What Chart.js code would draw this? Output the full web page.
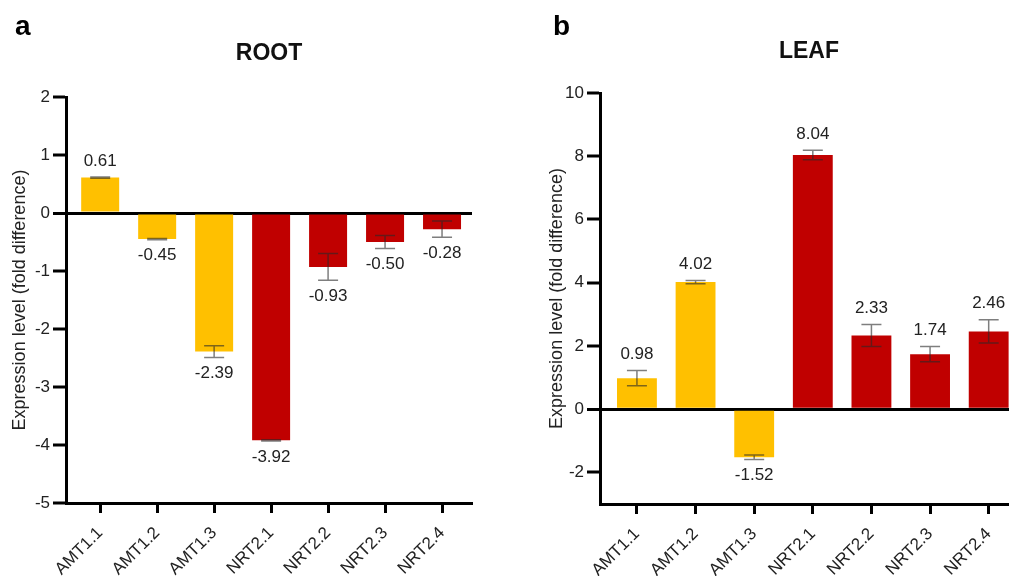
<!DOCTYPE html>
<html>
<head>
<meta charset="utf-8">
<script src="https://cdn.jsdelivr.net/npm/chart.js@4"></script>
<style>
  html, body { margin: 0; padding: 0; background: #fff; overflow: hidden; }
  body { width: 1009px; height: 576px; position: relative; }
  .panel { position: absolute; top: 0; }
  #root-chart { left: 0; }
  #leaf-chart { left: 520px; }
</style>
</head>
<body>
<canvas id="root-chart" class="panel" width="505" height="576"></canvas>
<canvas id="leaf-chart" class="panel" width="500" height="576"></canvas>
<script>
// data
const genes = ['AMT1.1', 'AMT1.2', 'AMT1.3', 'NRT2.1', 'NRT2.2', 'NRT2.3', 'NRT2.4'];
const geneColors = ['#FFC000', '#FFC000', '#FFC000', '#C00000', '#C00000', '#C00000', '#C00000'];
const rootValues = [0.61, -0.45, -2.39, -3.92, -0.93, -0.50, -0.28];
const rootErrors = [0.01, 0.01, 0.10, 0.01, 0.23, 0.11, 0.14];
const leafValues = [0.98, 4.02, -1.52, 8.04, 2.33, 1.74, 2.46];
const leafErrors = [0.24, 0.05, 0.07, 0.15, 0.35, 0.24, 0.37];
const rootTicks = [-5, -4, -3, -2, -1, 0, 1, 2];
const leafTicks = [-2, 0, 2, 4, 6, 8, 10];

Chart.defaults.font.family = '"Liberation Sans", Arial, sans-serif';
Chart.defaults.color = '#222';

// error bars + value labels
const errorBars = {
    id: 'errorBars',
    afterDatasetsDraw(chart) {
        const ctx = chart.ctx;
        const y = chart.scales.y;
        const ds = chart.data.datasets[0];
        const meta = chart.getDatasetMeta(0);
        ctx.save();
        meta.data.forEach((bar, i) => {
            const v = ds.data[i].y, e = ds.errors[i];
            const top = y.getPixelForValue(v + e);
            const bot = y.getPixelForValue(v - e);
            ctx.strokeStyle = 'rgba(40,40,40,0.6)';
            ctx.lineWidth = 1.5;
            ctx.beginPath();
            ctx.moveTo(bar.x, top); ctx.lineTo(bar.x, bot);
            ctx.moveTo(bar.x - 10, top); ctx.lineTo(bar.x + 10, top);
            ctx.moveTo(bar.x - 10, bot); ctx.lineTo(bar.x + 10, bot);
            ctx.stroke();
            ctx.fillStyle = '#222';
            ctx.font = '17px "Liberation Sans", Arial, sans-serif';
            ctx.textAlign = 'center';
            ctx.textBaseline = 'middle';
            ctx.fillText(v.toFixed(2), bar.x, v >= 0 ? top - 16 : bot + 16);
        });
        ctx.restore();
    }
};

// panel letter and title
const panelTitle = {
    id: 'panelTitle',
    afterDraw(chart, args, opts) {
        const ctx = chart.ctx;
        const area = chart.chartArea;
        ctx.save();
        ctx.fillStyle = '#000';
        ctx.textBaseline = 'alphabetic';
        ctx.textAlign = 'left';
        ctx.font = 'bold 28px "Liberation Sans", Arial, sans-serif';
        ctx.fillText(opts.letter, opts.letterX, 35);
        ctx.fillStyle = '#111';
        ctx.textAlign = 'center';
        ctx.textBaseline = 'middle';
        ctx.font = 'bold 23px "Liberation Sans", Arial, sans-serif';
        ctx.fillText(opts.text, (area.left + area.right) / 2, opts.titleY);
        ctx.restore();
    }
};

function makeChart(id, cfg) {
    const ctx = document.getElementById(id).getContext('2d');
    return new Chart(ctx, {
        type: 'bar',
        data: {
            datasets: [{
                data: cfg.values.map((v, i) => ({ x: i, y: v })),
                errors: cfg.errors,
                backgroundColor: geneColors,
                borderWidth: 0,
                barPercentage: cfg.barPct,
                categoryPercentage: 1
            }]
        },
        options: {
            responsive: false,
            animation: false,
            layout: { padding: cfg.padding },
            plugins: {
                legend: { display: false },
                tooltip: { enabled: false },
                panelTitle: { letter: cfg.letter, letterX: cfg.letterX, text: cfg.title, titleY: cfg.titleY }
            },
            scales: {
                x: {
                    type: 'linear',
                    min: cfg.xMin,
                    max: cfg.xMax,
                    offset: false,
                    afterBuildTicks: s => { s.ticks = genes.map((_, i) => ({ value: i })); },
                    afterFit: s => { s.height = cfg.xHeight; },
                    grid: { drawOnChartArea: false, offset: false, tickLength: 10, tickWidth: 3, tickColor: '#000' },
                    border: { color: '#000', width: 3 },
                    ticks: {
                        callback: v => genes[v],
                        autoSkip: false,
                        minRotation: 45,
                        maxRotation: 45,
                        padding: 10,
                        font: { size: 17 }
                    }
                },
                y: {
                    min: cfg.yMin,
                    max: cfg.yMax,
                    afterBuildTicks: s => { s.ticks = cfg.yTicks.map(v => ({ value: v })); },
                    afterFit: s => { s.width = cfg.yWidth; },
                    grid: {
                        color: '#000',
                        lineWidth: c => (c.tick && c.tick.value === 0 ? 3 : 0),
                        tickLength: 13,
                        tickWidth: 3,
                        tickColor: '#000'
                    },
                    border: { color: '#000', width: 3 },
                    ticks: { padding: 3, font: { size: 17 } },
                    title: {
                        display: true,
                        text: 'Expression level (fold difference)',
                        font: { size: 18 },
                        padding: { top: cfg.titlePad, bottom: 0 }
                    }
                }
            }
        },
        plugins: [errorBars, panelTitle]
    });
}

makeChart('root-chart', {
    values: rootValues, errors: rootErrors,
    letter: 'a', letterX: 15, title: 'ROOT', titleY: 54,
    xMin: -0.6, xMax: 6.526, xHeight: 73,
    yMin: -5, yMax: 2, yTicks: rootTicks, yWidth: 66, titlePad: 9,
    barPct: 0.667,
    padding: { top: 97, right: 33, left: 0, bottom: 0 }
});

makeChart('leaf-chart', {
    values: leafValues, errors: leafErrors,
    letter: 'b', letterX: 33, title: 'LEAF', titleY: 52,
    xMin: -0.63, xMax: 6.5, xHeight: 72,
    yMin: -3, yMax: 10, yTicks: leafTicks, yWidth: 80, titlePad: 26,
    barPct: 0.68,
    padding: { top: 93, right: 2, left: 0, bottom: 0 }
});
</script>
</body>
</html>
